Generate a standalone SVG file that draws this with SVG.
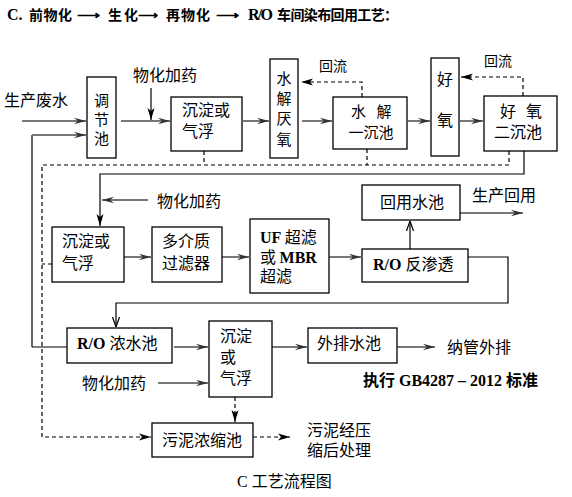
<svg xmlns="http://www.w3.org/2000/svg" width="572" height="497" viewBox="0 0 572 497">
<style>
.box{fill:#fff;stroke:#000;stroke-width:1.3}
.t{font-family:"Noto Sans CJK SC","Liberation Sans",sans-serif;font-size:16px;fill:#000}
.s{font-size:14px}
.v{font-size:15px}
.m{text-anchor:middle}
.b{font-family:"Liberation Serif","Noto Sans CJK SC",serif;font-weight:bold}
.tb{font-weight:bold}
.g{stroke:#777;stroke-width:2;fill:none}
.k{stroke:#000;stroke-width:1.2;fill:none}
.d{stroke:#000;stroke-width:1.2;fill:none;stroke-dasharray:4 3}
</style>
<defs>
<marker id="ag" viewBox="0 0 12 8" refX="12" refY="4" markerWidth="12" markerHeight="8" markerUnits="userSpaceOnUse" orient="auto"><path d="M0,0.8 L12,4 L0,7.2 L4,4 Z" fill="#333"/></marker>
<marker id="ab" viewBox="0 0 12 8" refX="12" refY="4" markerWidth="12" markerHeight="8" markerUnits="userSpaceOnUse" orient="auto"><path d="M0,0.5 L12,4 L0,7.5 L3,4 Z" fill="#000"/></marker>
<marker id="ao" viewBox="0 0 10 8" refX="10" refY="4" markerWidth="10" markerHeight="8" markerUnits="userSpaceOnUse" orient="auto"><path d="M0,0.5 L10,4 L0,7.5" fill="none" stroke="#000" stroke-width="1.2"/></marker>
</defs>
<rect width="572" height="497" fill="#fff"/>
<g id="title">
<text x="7" y="20" class="t b" font-size="16">C.</text>
<text x="29" y="20" class="t tb" style="font-size:14px" textLength="43">前物化</text>
<text x="77" y="20" class="t tb" style="font-size:14px" textLength="23" lengthAdjust="spacingAndGlyphs">⟶</text>
<text x="108" y="20" class="t tb" style="font-size:14px" textLength="30">生化</text>
<text x="138" y="20" class="t tb" style="font-size:14px" textLength="20" lengthAdjust="spacingAndGlyphs">⟶</text>
<text x="166" y="20" class="t tb" style="font-size:14px" textLength="44">再物化</text>
<text x="216" y="20" class="t tb" style="font-size:14px" textLength="23" lengthAdjust="spacingAndGlyphs">⟶</text>
<text x="248" y="20" class="t b" font-size="16" textLength="25">R/O</text>
<text x="277" y="20" class="t tb" style="font-size:14px" textLength="121">车间染布回用工艺：</text>
</g>
<g id="connectors">
<path class="g" d="M22,121 H86" marker-end="url(#ag)"/>
<path class="k" d="M32,347 V135"/>
<path class="g" d="M32,135 H86" marker-end="url(#ag)"/>
<path class="g" d="M121,121 H170" marker-end="url(#ag)"/>
<path class="k" d="M151,88 V120" marker-end="url(#ab)"/>
<path class="g" d="M243,121 H269" marker-end="url(#ag)"/>
<path class="g" d="M302,121 H332" marker-end="url(#ag)"/>
<path class="g" d="M408,121 H430" marker-end="url(#ag)"/>
<path class="g" d="M460,121 H483" marker-end="url(#ag)"/>
<path class="d" d="M362,97 V82 H301" marker-end="url(#ab)"/>
<path class="d" d="M523,96 V77 H461" marker-end="url(#ab)"/>
<path class="d" d="M204,151 V165 M367,149 V165 M509,151 V165 H42 V437 H151" marker-end="url(#ab)"/>
<path class="d" d="M52,264 H42"/>
<path class="k" d="M524,151 V174 H100 V226" marker-end="url(#ab)"/>
<path class="g" d="M148,200 H102" marker-end="url(#ag)"/>
<path class="g" d="M124,257 H151" marker-end="url(#ag)"/>
<path class="g" d="M222,257 H249" marker-end="url(#ag)"/>
<path class="g" d="M329,257 H361" marker-end="url(#ag)"/>
<path class="k" d="M410,249 V221" marker-end="url(#ao)"/>
<path class="g" d="M460,213 H523" marker-end="url(#ag)"/>
<path class="k" d="M468,257 H508 V303 H116 V327" marker-end="url(#ao)"/>
<path class="k" d="M32,347 H67"/>
<path class="g" d="M174,347 H208" marker-end="url(#ag)"/>
<path class="g" d="M158,383 H208" marker-end="url(#ag)"/>
<path class="d" d="M235,397 V422" marker-end="url(#ab)"/>
<path class="g" d="M272,347 H307" marker-end="url(#ag)"/>
<path class="g" d="M397,347 H435" marker-end="url(#ag)"/>
<path class="d" d="M253,437 H290" marker-end="url(#ab)"/>
</g>
<g id="labels">
<text x="4" y="106" class="t">生产废水</text>
<text x="133" y="81" class="t">物化加药</text>
<text x="319" y="71" class="t s">回流</text>
<text x="484" y="66" class="t s">回流</text>
<text x="157" y="207" class="t">物化加药</text>
<text x="472" y="201" class="t">生产回用</text>
<text x="82" y="389" class="t">物化加药</text>
<text x="447" y="353" class="t">纳管外排</text>
<text x="363" y="386" class="t tb" textLength="175"><tspan class="b">执行 GB4287 – 2012 </tspan>标准</text>
<text x="307" y="436" class="t">污泥经压</text>
<text x="307" y="456" class="t">缩后处理</text>
<text x="237" y="487" class="t"><tspan font-family="Liberation Serif">C </tspan>工艺流程图</text>
</g>
<g id="n-tiaojie">
<rect class="box" x="87" y="77" width="29" height="81"/>
<text x="101.5" y="106" class="t v m">调</text>
<text x="101.5" y="125" class="t v m">节</text>
<text x="101.5" y="144" class="t v m">池</text>
</g>
<g id="n-chendian1">
<rect class="box" x="171" y="97" width="71" height="54"/>
<text x="182" y="116" class="t">沉淀或</text>
<text x="182" y="137" class="t">气浮</text>
</g>
<g id="n-shuijie-yanyang">
<rect class="box" x="270" y="59" width="28" height="99"/>
<text x="284" y="84" class="t v m">水</text>
<text x="284" y="104" class="t v m">解</text>
<text x="284" y="124" class="t v m">厌</text>
<text x="284" y="145" class="t v m">氧</text>
</g>
<g id="n-shuijie-chenchi">
<rect class="box" x="333" y="97" width="74" height="52"/>
<text x="358.5" y="117" class="t v m">水</text>
<text x="384" y="117" class="t v m">解</text>
<text x="371" y="138" class="t v m">一沉池</text>
</g>
<g id="n-haoyang">
<rect class="box" x="431" y="58" width="28" height="98"/>
<text x="445" y="85" class="t m">好</text>
<text x="445" y="126" class="t m">氧</text>
</g>
<g id="n-haoyang-erchen">
<rect class="box" x="484" y="96" width="73" height="55"/>
<text x="508" y="117" class="t m">好</text>
<text x="534" y="117" class="t m">氧</text>
<text x="518" y="138" class="t m">二沉池</text>
</g>
<g id="n-chendian2">
<rect class="box" x="52" y="227" width="72" height="55"/>
<text x="62" y="247" class="t">沉淀或</text>
<text x="62" y="269" class="t">气浮</text>
</g>
<g id="n-duojiezhi">
<rect class="box" x="152" y="227" width="70" height="55"/>
<text x="162" y="247" class="t">多介质</text>
<text x="162" y="269" class="t">过滤器</text>
</g>
<g id="n-uf">
<rect class="box" x="250" y="219" width="79" height="74"/>
<text x="260" y="243" class="t"><tspan class="b">UF </tspan>超滤</text>
<text x="260" y="263" class="t">或 <tspan class="b">MBR</tspan></text>
<text x="260" y="282" class="t">超滤</text>
</g>
<g id="n-huiyong">
<rect class="box" x="362" y="185" width="98" height="35"/>
<text x="412" y="208" class="t m">回用水池</text>
</g>
<g id="n-ro">
<rect class="box" x="362" y="249" width="106" height="33"/>
<text x="373" y="270" class="t"><tspan class="b">R/O </tspan>反渗透</text>
</g>
<g id="n-ro-nongshui">
<rect class="box" x="67" y="328" width="105" height="35"/>
<text x="77" y="349" class="t"><tspan class="b">R/O </tspan>浓水池</text>
</g>
<g id="n-chendian3">
<rect class="box" x="209" y="321" width="63" height="76"/>
<text x="220" y="342" class="t">沉淀</text>
<text x="220" y="363" class="t">或</text>
<text x="220" y="384" class="t">气浮</text>
</g>
<g id="n-waipai">
<rect class="box" x="308" y="328" width="89" height="35"/>
<text x="317" y="349" class="t">外排水池</text>
</g>
<g id="n-wuni">
<rect class="box" x="152" y="423" width="101" height="34"/>
<text x="162" y="446" class="t">污泥浓缩池</text>
</g>
</svg>
